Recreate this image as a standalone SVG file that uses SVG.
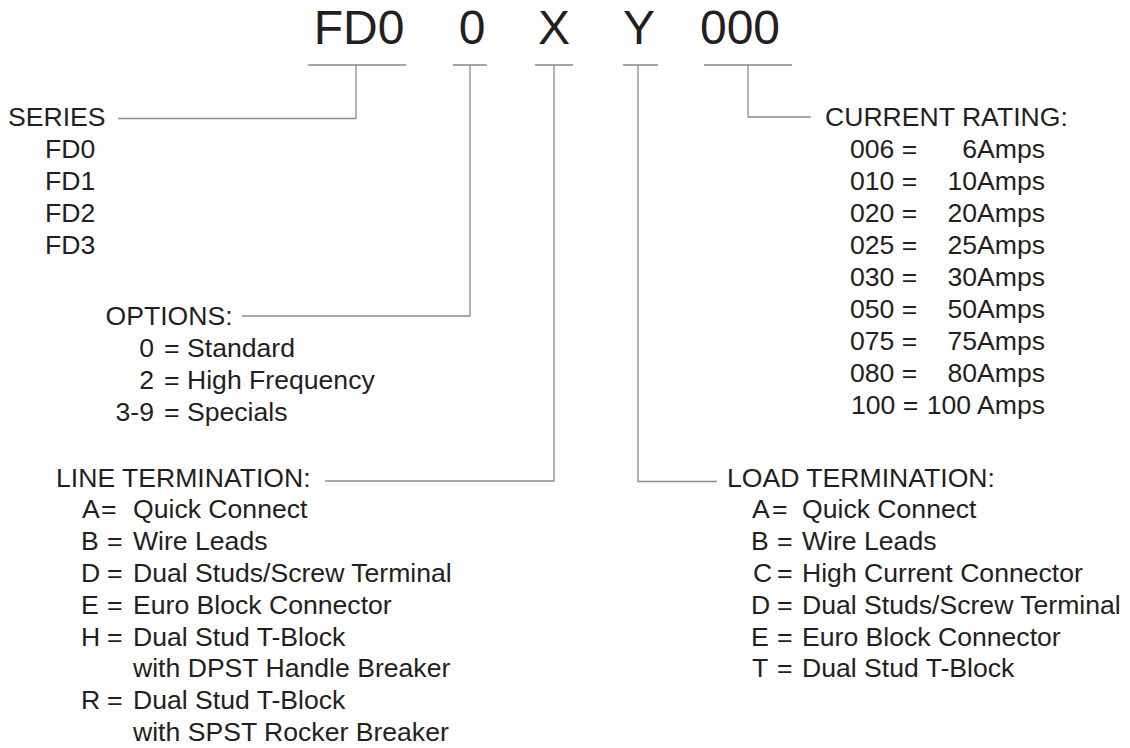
<svg xmlns="http://www.w3.org/2000/svg" width="1130" height="748" viewBox="0 0 1130 748">
<style>
text{font-family:"Liberation Sans",Arial,sans-serif;fill:#231f20;font-size:26.6px}
.title{font-size:48px;text-anchor:middle}
.end{text-anchor:end}
.ul{stroke:#4d4d4d;stroke-width:1.2;fill:none}
.con{stroke:#8c8c8c;stroke-width:1.3;fill:none}
</style>
<rect width="1130" height="748" fill="#ffffff"/>
<g id="title">
<text class="title" x="359" y="44">FD0</text>
<text class="title" x="472" y="44">0</text>
<text class="title" x="554" y="44">X</text>
<text class="title" x="639" y="44">Y</text>
<text class="title" x="740" y="44">000</text>
<line class="ul" x1="308" y1="65" x2="406" y2="65"/>
<line class="ul" x1="453" y1="65" x2="487" y2="65"/>
<line class="ul" x1="535" y1="65" x2="573" y2="65"/>
<line class="ul" x1="623" y1="65" x2="658" y2="65"/>
<line class="ul" x1="704" y1="65" x2="792" y2="65"/>
</g>
<g id="connectors">
<path class="con" d="M356,65 V118.5 H118"/>
<path class="con" d="M470,65 V316 H242"/>
<path class="con" d="M554,65 V481 H325"/>
<path class="con" d="M638,65 V481.5 H717"/>
<path class="con" d="M748,65 V117 H811"/>
</g>
<g id="series">
<text x="8" y="126">SERIES</text>
<text x="45" y="158">FD0</text>
<text x="45" y="190">FD1</text>
<text x="45" y="222">FD2</text>
<text x="45" y="254">FD3</text>
</g>
<g id="options">
<text x="105.5" y="325">OPTIONS:</text>
<text class="end" x="154" y="357">0</text>
<text x="164" y="357">=</text>
<text x="187" y="357">Standard</text>
<text class="end" x="154" y="389">2</text>
<text x="164" y="389">=</text>
<text x="187" y="389">High Frequency</text>
<text class="end" x="154" y="421">3-9</text>
<text x="164" y="421">=</text>
<text x="187" y="421">Specials</text>
</g>
<g id="line-termination">
<text x="56" y="486.5">LINE TERMINATION:</text>
<text x="82" y="518.3">A</text><text x="101" y="518.3">=</text><text x="133" y="518.3">Quick Connect</text>
<text x="81" y="550.1">B</text><text x="107" y="550.1">=</text><text x="133" y="550.1">Wire Leads</text>
<text x="81" y="581.9">D</text><text x="107" y="581.9">=</text><text x="133" y="581.9">Dual Studs/Screw Terminal</text>
<text x="81" y="613.7">E</text><text x="107" y="613.7">=</text><text x="133" y="613.7">Euro Block Connector</text>
<text x="81" y="645.5">H</text><text x="107" y="645.5">=</text><text x="133" y="645.5">Dual Stud T-Block</text>
<text x="133" y="677.3">with DPST Handle Breaker</text>
<text x="81" y="709.1">R</text><text x="107" y="709.1">=</text><text x="133" y="709.1">Dual Stud T-Block</text>
<text x="133" y="740.9">with SPST Rocker Breaker</text>
</g>
<g id="load-termination">
<text x="727" y="486.5">LOAD TERMINATION:</text>
<text x="752" y="518.3">A</text><text x="772" y="518.3">=</text><text x="802" y="518.3">Quick Connect</text>
<text x="751" y="550.1">B</text><text x="777" y="550.1">=</text><text x="802" y="550.1">Wire Leads</text>
<text x="753" y="581.9">C</text><text x="777" y="581.9">=</text><text x="802" y="581.9">High Current Connector</text>
<text x="751" y="613.7">D</text><text x="777" y="613.7">=</text><text x="802" y="613.7">Dual Studs/Screw Terminal</text>
<text x="751" y="645.5">E</text><text x="777" y="645.5">=</text><text x="802" y="645.5">Euro Block Connector</text>
<text x="752" y="677.3">T</text><text x="777" y="677.3">=</text><text x="802" y="677.3">Dual Stud T-Block</text>
</g>
<g id="current-rating">
<text x="825" y="126">CURRENT RATING:</text>
<text x="850" y="158">006 =</text><text class="end" x="1045" y="158">6Amps</text>
<text x="850" y="190">010 =</text><text class="end" x="1045" y="190">10Amps</text>
<text x="850" y="222">020 =</text><text class="end" x="1045" y="222">20Amps</text>
<text x="850" y="254">025 =</text><text class="end" x="1045" y="254">25Amps</text>
<text x="850" y="286">030 =</text><text class="end" x="1045" y="286">30Amps</text>
<text x="850" y="318">050 =</text><text class="end" x="1045" y="318">50Amps</text>
<text x="850" y="350">075 =</text><text class="end" x="1045" y="350">75Amps</text>
<text x="850" y="382">080 =</text><text class="end" x="1045" y="382">80Amps</text>
<text x="851" y="414">100 =</text><text class="end" x="1045" y="414">100 Amps</text>
</g>
</svg>
